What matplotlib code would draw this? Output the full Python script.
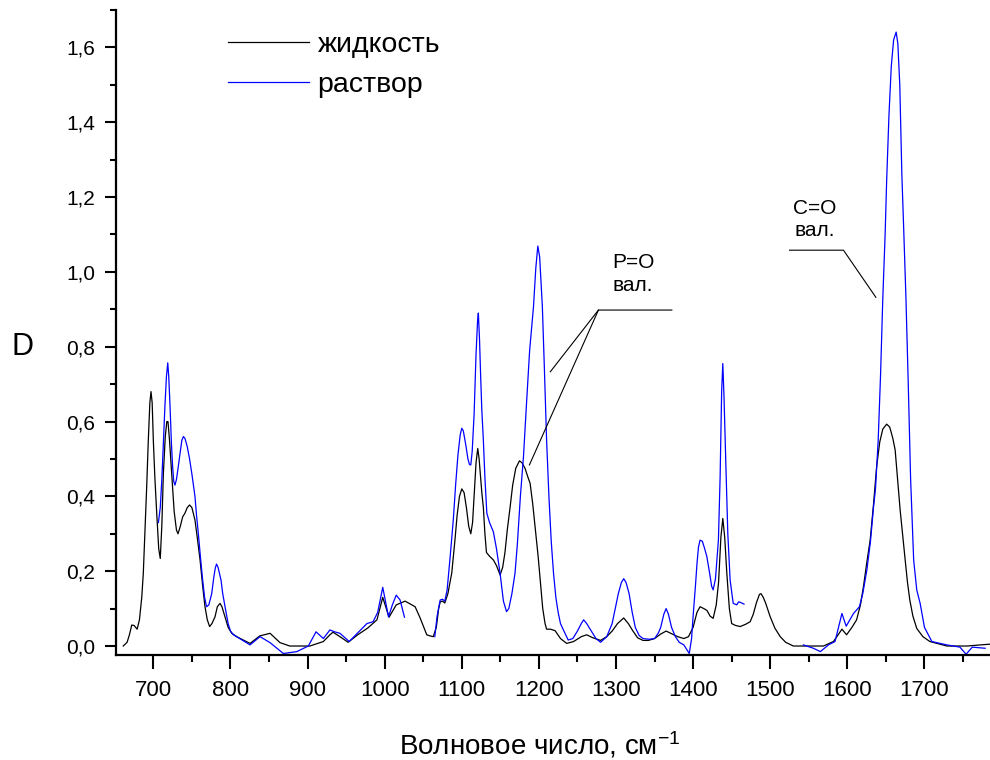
import matplotlib
matplotlib.use("Agg")
import matplotlib.pyplot as plt
from matplotlib.ticker import MultipleLocator, FuncFormatter

plt.rcParams['font.family'] = ['Liberation Sans', 'DejaVu Sans']
plt.rcParams['mathtext.fontset'] = 'custom'
plt.rcParams['mathtext.rm'] = 'Liberation Sans'
plt.rcParams['mathtext.default'] = 'regular'

# ---- data: "жидкость" (liquid) ----
liquid_x = [661, 666, 669, 672, 675, 679, 682, 685, 687, 689, 691.4, 693.5, 695.5, 697, 698.5,
            700, 702, 704.4, 707, 709, 711, 713, 715.5, 717.5, 719, 721, 723.8, 727, 730, 732,
            735, 738, 741, 744, 747, 750, 754, 757, 760.6, 764, 767, 770, 773, 776, 780, 783,
            786.5, 789, 793, 797, 801.7, 808, 825.4, 838, 851.4, 864.3, 877, 903, 920.5, 929,
            933, 942, 952.6, 965, 978, 990, 997.5, 1005.7, 1015, 1026.5, 1039.5, 1046, 1054.6,
            1059, 1063, 1067, 1070, 1072, 1075, 1078, 1082, 1087, 1091, 1094, 1097, 1100, 1103,
            1106, 1109, 1111.7, 1114, 1116, 1118.5, 1120.7, 1122.5, 1124, 1126, 1128, 1130,
            1132, 1136, 1141, 1145, 1149.7, 1153, 1156, 1159, 1162.6, 1166, 1170, 1174.8, 1178,
            1182, 1186, 1188.6, 1192, 1195, 1199, 1202, 1205, 1208, 1210, 1215, 1221, 1228,
            1236, 1245, 1255, 1262, 1270, 1280, 1288, 1295, 1302, 1310, 1316, 1322, 1328, 1335,
            1342, 1350, 1358, 1365, 1372, 1380, 1388, 1394, 1400, 1405, 1409, 1414, 1418, 1422,
            1426, 1430, 1433, 1436, 1438.5, 1441, 1443.7, 1447, 1450, 1455, 1461, 1468, 1474,
            1478, 1482, 1486, 1488, 1491, 1494, 1500, 1506, 1513, 1520, 1530, 1569, 1582, 1593,
            1599, 1606, 1612, 1617, 1621, 1625, 1629.6, 1634, 1638, 1642, 1646, 1651, 1655,
            1659, 1662, 1665, 1668.5, 1672, 1675, 1678, 1681, 1685, 1690, 1698, 1707, 1729,
            1755, 1785]
liquid_y = [0.0, 0.01, 0.03, 0.056, 0.055, 0.045, 0.07, 0.13, 0.194, 0.30, 0.426, 0.55, 0.65,
            0.68, 0.65, 0.55, 0.45, 0.355, 0.26, 0.234, 0.32, 0.46, 0.56, 0.60, 0.60, 0.55,
            0.46, 0.36, 0.31, 0.30, 0.32, 0.345, 0.355, 0.37, 0.377, 0.37, 0.337, 0.29, 0.23,
            0.16, 0.105, 0.07, 0.052, 0.06, 0.078, 0.105, 0.114, 0.105, 0.078, 0.05, 0.034,
            0.025, 0.007, 0.027, 0.034, 0.009, 0.0, 0.0, 0.012, 0.03, 0.037, 0.025, 0.01, 0.03,
            0.048, 0.07, 0.13, 0.077, 0.11, 0.12, 0.105, 0.075, 0.03, 0.027, 0.025, 0.05, 0.10,
            0.118, 0.12, 0.115, 0.14, 0.195, 0.28, 0.35, 0.40, 0.42, 0.41, 0.37, 0.32, 0.30,
            0.33, 0.40, 0.49, 0.528, 0.50, 0.46, 0.41, 0.37, 0.30, 0.25, 0.24, 0.23, 0.215,
            0.19, 0.21, 0.25, 0.31, 0.37, 0.43, 0.475, 0.495, 0.49, 0.475, 0.45, 0.435, 0.38,
            0.32, 0.24, 0.17, 0.10, 0.06, 0.045, 0.045, 0.041, 0.02, 0.007, 0.012, 0.025, 0.03,
            0.022, 0.015, 0.025, 0.04, 0.06, 0.075, 0.06, 0.04, 0.022, 0.015, 0.015, 0.02,
            0.032, 0.04, 0.033, 0.025, 0.02, 0.025, 0.05, 0.09, 0.105, 0.10, 0.095, 0.08, 0.074,
            0.11, 0.17, 0.29, 0.341, 0.29, 0.195, 0.10, 0.06, 0.055, 0.052, 0.058, 0.065, 0.085,
            0.115, 0.138, 0.14, 0.13, 0.115, 0.078, 0.048, 0.025, 0.01, 0.0, 0.0, 0.012, 0.045,
            0.03, 0.05, 0.07, 0.11, 0.16, 0.22, 0.283, 0.38, 0.48, 0.545, 0.58, 0.593, 0.585,
            0.555, 0.524, 0.45, 0.363, 0.29, 0.23, 0.17, 0.123, 0.08, 0.047, 0.025, 0.012, 0.0,
            0.0, 0.005]

# ---- data: "раствор" (solution), three segments ----
sol1_x = [706.6, 709, 711, 713, 715, 717, 718.7, 720, 721.7, 723.5, 725, 726.5, 728, 730, 732.4,
          735, 737, 739, 741, 744, 747, 750, 752, 754, 756, 758.4, 761, 764, 766.5, 769, 772,
          775.7, 778.5, 780.5, 782, 784, 787.8, 790, 793, 797, 800, 804, 812, 825.4, 838.4,
          851.4, 868.6, 886, 901, 911, 920.5, 929, 935, 942, 954, 965, 977, 985, 991, 997.5,
          1001, 1005, 1010, 1015, 1020, 1025.7]
sol1_y = [0.33, 0.37, 0.444, 0.54, 0.64, 0.72, 0.757, 0.72, 0.64, 0.54, 0.48, 0.44, 0.43, 0.445,
          0.48, 0.52, 0.55, 0.56, 0.555, 0.533, 0.50, 0.46, 0.43, 0.40, 0.35, 0.30, 0.24, 0.176,
          0.13, 0.105, 0.11, 0.14, 0.185, 0.21, 0.219, 0.21, 0.176, 0.14, 0.105, 0.06, 0.04,
          0.03, 0.02, 0.003, 0.025, 0.009, -0.02, -0.015, 0.0, 0.038, 0.02, 0.043, 0.038, 0.034,
          0.012, 0.035, 0.06, 0.065, 0.09, 0.157, 0.12, 0.078, 0.11, 0.136, 0.123, 0.077]
sol2_x = [1065, 1068, 1072, 1075, 1078, 1081, 1085, 1089, 1092, 1095, 1098, 1100, 1102, 1105,
          1108, 1110, 1111.7, 1113.5, 1116, 1118.5, 1120.5, 1121.5, 1123, 1124.5, 1126, 1128,
          1130, 1132.5, 1136, 1141, 1145, 1149.7, 1154, 1158, 1161, 1165, 1169, 1172, 1176,
          1180, 1184, 1188, 1193, 1196, 1198.6, 1201, 1204.5, 1207, 1210, 1213, 1216, 1219, 1222,
          1225, 1228, 1231.8, 1238, 1244, 1250, 1255, 1258, 1262, 1268, 1274, 1280, 1288, 1295,
          1300, 1303, 1307, 1310, 1313, 1317, 1321, 1325, 1330, 1335, 1343, 1350, 1355, 1358,
          1362, 1365, 1368, 1372, 1377, 1382, 1388, 1392, 1395, 1398, 1400, 1403, 1405, 1407,
          1409, 1412, 1415, 1417.7, 1421, 1424, 1426, 1429, 1432.8, 1435, 1437, 1438.5, 1440,
          1442.8, 1445, 1448, 1452, 1456.6, 1459, 1462, 1466]
sol2_y = [0.025, 0.08, 0.123, 0.125, 0.12, 0.15, 0.24, 0.337, 0.43, 0.51, 0.565, 0.582, 0.575,
          0.54, 0.50, 0.485, 0.484, 0.52, 0.62, 0.78, 0.87, 0.89, 0.82, 0.72, 0.63, 0.55, 0.45,
          0.355, 0.33, 0.305, 0.26, 0.194, 0.12, 0.092, 0.10, 0.14, 0.194, 0.27, 0.40, 0.506,
          0.65, 0.79, 0.907, 1.01, 1.069, 1.04, 0.907, 0.75, 0.55, 0.40, 0.28, 0.194, 0.13,
          0.09, 0.06, 0.043, 0.016, 0.02, 0.04, 0.06, 0.07, 0.06, 0.04, 0.02, 0.01, 0.025, 0.06,
          0.11, 0.14, 0.17, 0.18, 0.17, 0.14, 0.09, 0.05, 0.028, 0.02, 0.018, 0.02, 0.035, 0.05,
          0.085, 0.10, 0.085, 0.05, 0.025, 0.01, 0.003, -0.01, -0.02, 0.02, 0.08, 0.16, 0.22,
          0.265, 0.283, 0.28, 0.26, 0.24, 0.20, 0.16, 0.15, 0.18, 0.283, 0.45, 0.68, 0.755,
          0.67, 0.46, 0.30, 0.176, 0.114, 0.11, 0.118, 0.116, 0.112]
sol3_x = [1543, 1556, 1565, 1575.5, 1584, 1593, 1598.5, 1608, 1615.7, 1620, 1625.3, 1630, 1634,
          1636.5, 1640, 1643, 1646, 1649, 1651, 1654, 1657, 1660, 1663.3, 1665.5, 1668, 1670.7,
          1673, 1676, 1679, 1682, 1686, 1690, 1694.4, 1700, 1709.6, 1729, 1746, 1754, 1762,
          1778.7]
sol3_y = [0.003, -0.006, -0.015, 0.003, 0.012, 0.087, 0.053, 0.087, 0.105, 0.14, 0.203, 0.28,
          0.372, 0.42, 0.55, 0.72, 0.93, 1.10, 1.245, 1.42, 1.55, 1.62, 1.641, 1.61, 1.50, 1.26,
          1.12, 0.93, 0.70, 0.45, 0.23, 0.15, 0.114, 0.05, 0.012, 0.003, -0.003, -0.022, -0.003,
          -0.006]

labels = ['жидкость', 'раствор']

fig = plt.figure(figsize=(9.9, 7.6), dpi=100)
ax = fig.add_axes([116 / 990, 105 / 760, 874 / 990, 645 / 760])

ax.plot(liquid_x, liquid_y, color='#000000', lw=0.9, label=labels[0])
ax.plot(sol1_x, sol1_y, color='#0000ff', lw=0.9, label=labels[1])
ax.plot(sol2_x, sol2_y, color='#0000ff', lw=0.9)
ax.plot(sol3_x, sol3_y, color='#0000ff', lw=0.9)

ax.set_xlim(651.6, 1785)
ax.set_ylim(-0.024, 1.70)

for s in ['top', 'right']:
    ax.spines[s].set_visible(False)
for s in ['left', 'bottom']:
    ax.spines[s].set_linewidth(1.6)

ax.xaxis.set_major_locator(MultipleLocator(100))
ax.xaxis.set_minor_locator(MultipleLocator(50))
ax.yaxis.set_major_locator(MultipleLocator(0.2))
ax.yaxis.set_minor_locator(MultipleLocator(0.1))
ax.yaxis.set_major_formatter(FuncFormatter(lambda v, p: f"{v:.1f}".replace('.', ',')))
ax.tick_params(axis='x', which='major', direction='out', length=10, width=1.5, pad=8, labelsize=16)
ax.tick_params(axis='x', which='minor', direction='out', length=5, width=1.5)
ax.tick_params(axis='y', which='major', direction='out', length=8, width=1.5, pad=7, labelsize=15)
ax.tick_params(axis='y', which='minor', direction='out', length=4, width=1.5)

fig.text(540 / 990, 1 - 745 / 760, 'Волновое число, см$^{-1}$', ha='center', va='center', fontsize=20)
fig.text(22 / 990, 1 - 347 / 760, 'D', ha='center', va='center', fontsize=22)

leg = ax.legend(loc='upper left', bbox_to_anchor=(0.115, 0.984), frameon=False, fontsize=20.5,
                handlelength=2.85, handletextpad=0.3, labelspacing=0.5, borderaxespad=0)
for h in leg.get_lines():
    h.set_linewidth(0.9)

# annotations
ax.text(1558, 1.14, 'C=O\nвал.', ha='center', va='center', fontsize=15, linespacing=1.25)
ax.plot([1525, 1595, 1637], [1.058, 1.058, 0.932], color='#000000', lw=0.8)
ax.text(1322, 0.994, 'P=O\nвал.', ha='center', va='center', fontsize=15, linespacing=1.25)
ax.plot([1372.4, 1277.2, 1214.8], [0.898, 0.898, 0.733], color='#000000', lw=0.8)
ax.plot([1277.2, 1187.7], [0.898, 0.484], color='#000000', lw=0.8)

fig.savefig('out.png', dpi=100)
